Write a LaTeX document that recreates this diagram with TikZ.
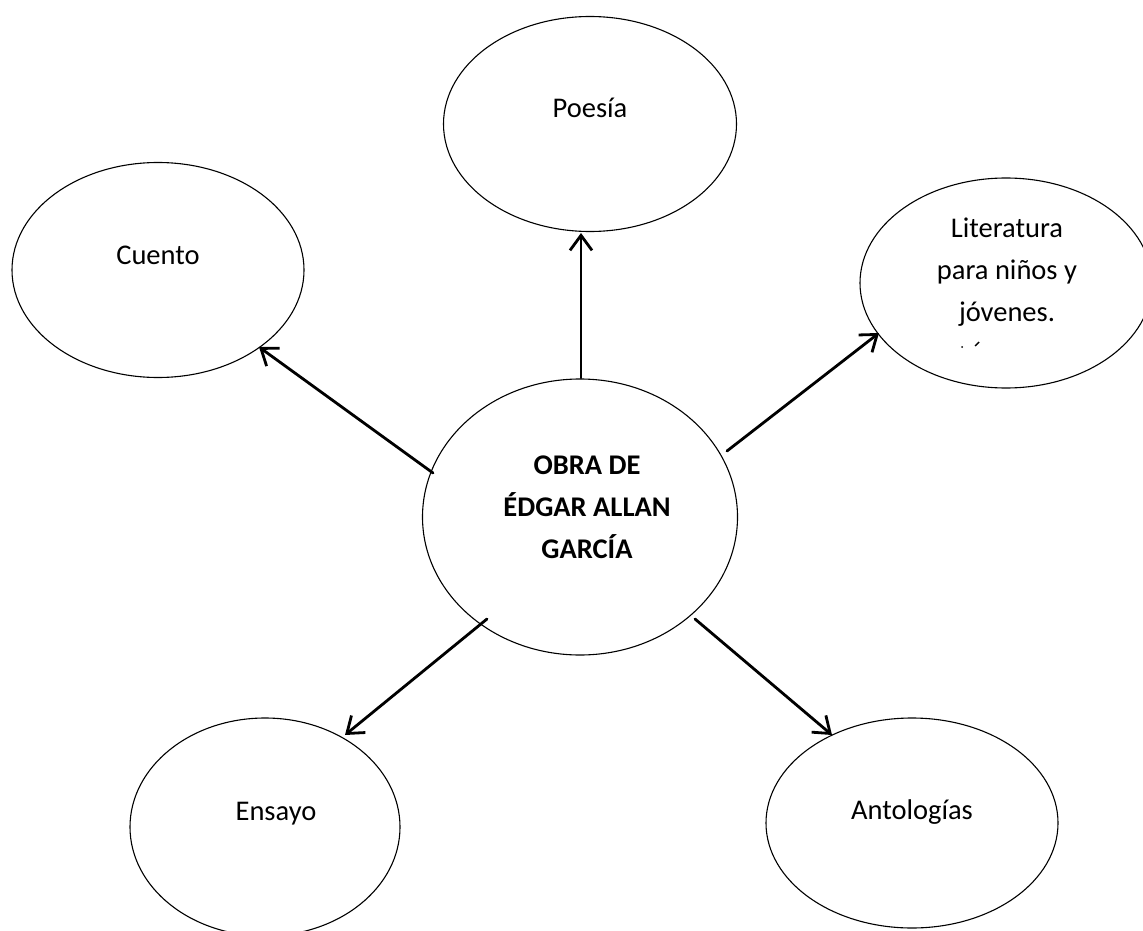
\documentclass[tikz,border=0pt]{standalone}
\usepackage{fontspec}
\setmainfont{Carlito}
\usetikzlibrary{shapes.geometric,arrows.meta}
\begin{document}
\begin{tikzpicture}[x=1pt,y=-1pt,
  ell/.style={draw, ellipse, line width=1.1pt, inner sep=0pt},
  lbl/.style={font=\fontsize{28.5}{42}\selectfont, align=center, inner sep=0pt},
  arr/.style={line width=2.8pt, line cap=round, -{Straight Barb[length=15pt,width=22pt,line width=2.8pt]}}]
\useasboundingbox (0,0) rectangle (1143,931);
\clip (0,0) rectangle (1143,931);
\fill[white] (0,0) rectangle (1143,931);

% ellipses
\node[ell, minimum width=293pt, minimum height=215pt] (poesia) at (590,124) {};
\node[ell, minimum width=292pt, minimum height=215pt] (cuento) at (158,270) {};
\node[ell, minimum width=292pt, minimum height=210pt] (lit) at (1006,283) {};
\node[ell, minimum width=315pt, minimum height=276pt] (obra) at (580,517) {};
\node[ell, minimum width=270pt, minimum height=218pt] (ensayo) at (265,827) {};
\node[ell, minimum width=292pt, minimum height=210pt] (antol) at (912,823) {};

% labels
\node[lbl, anchor=base] (tpoesia) at (590,118) {Poesía};
\node[lbl, anchor=base] (tcuento) at (158,264) {Cuento};
\node[lbl] (tlit) at (1007,272) {Literatura\\para niños y\\jóvenes.};
\node[lbl, font=\fontsize{28.5}{42}\selectfont\bfseries] (tobra) at (587,507) {OBRA DE\\ÉDGAR ALLAN\\GARCÍA};
\node[lbl, anchor=base] (tensayo) at (276,820) {Ensayo};
\node[lbl, anchor=base] (tantol) at (912,819) {Antologías};

% stray marks below the Literatura text
\fill (962,347) circle (1pt);
\draw[line width=1.4pt] (975,346) -- (979,342);

% connector end points
\coordinate (o1) at (581,378);
\coordinate (p1) at (581,233);
\coordinate (o2) at (433,473);
\coordinate (c2) at (259,347);
\coordinate (o3) at (727,451);
\coordinate (l3) at (879,333);
\coordinate (o4) at (487,619);
\coordinate (e4) at (345,735);
\coordinate (o5) at (695,619);
\coordinate (a5) at (832,735);

\draw[arr] (o1) -- (p1);
\draw[arr] (o2) -- (c2);
\draw[arr] (o3) -- (l3);
\draw[arr] (o4) -- (e4);
\draw[arr] (o5) -- (a5);
\end{tikzpicture}
\end{document}
